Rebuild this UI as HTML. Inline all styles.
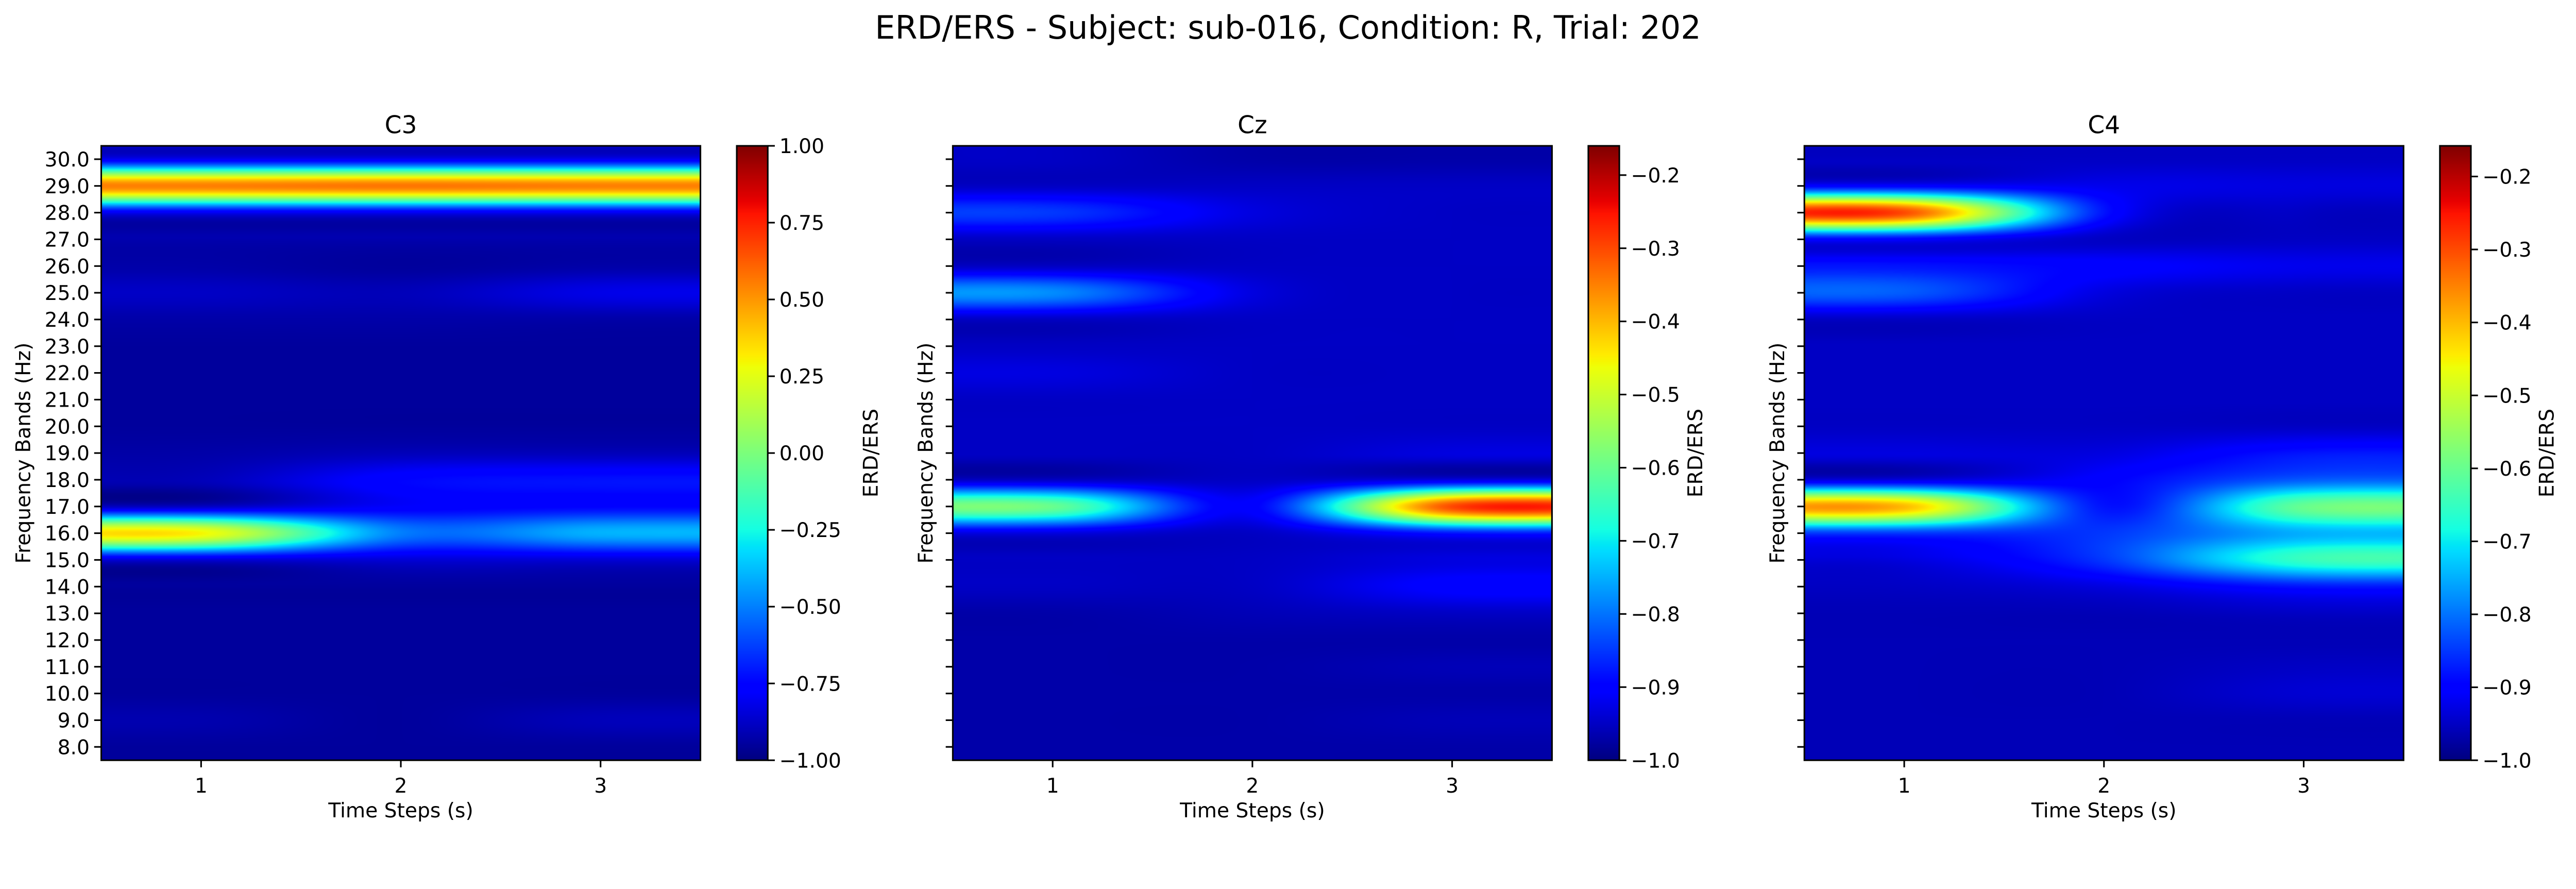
<!DOCTYPE html>
<html><head><meta charset="utf-8">
<meta name="viewport" content="width=5318, initial-scale=1">
<style>
html,body{margin:0;padding:0;background:#fff;overflow:hidden;}
#fig{position:absolute;left:0;top:0;width:5318px;height:1725px;overflow:hidden;background:#fff;font-family:"DejaVu Sans","Liberation Sans",sans-serif;transform-origin:0 0;}
canvas{position:absolute;display:block;}
svg{position:absolute;left:0;top:0;overflow:hidden;}
</style></head>
<body>
<div id="fig">
<svg id="ov" width="5318" height="1725" viewBox="0 0 5318 1725"></svg>
</div>
<script>
// ---- data (rows: frequencies 8..30 Hz, columns: time steps 1,2,3) ----
const freqs = [8,9,10,11,12,13,14,15,16,17,18,19,20,21,22,23,24,25,26,27,28,29,30];
const times = [1,2,3];
const channels = ["C3","Cz","C4"];
const vmins = [-1.0,-1.0,-1.0];
const vmaxs = [1.0,-0.16,-0.158];
const c3Values = [
 [-0.95,-0.95,-0.95],[-0.92,-0.95,-0.9],[-0.95,-0.95,-0.95],[-0.95,-0.95,-0.95],[-0.95,-0.95,-0.95],
 [-0.95,-0.95,-0.95],[-0.95,-0.95,-0.95],[-0.85,-0.85,-0.85],[0.3,-0.5,-0.4],[-0.88,-0.78,-0.75],
 [-0.9,-0.75,-0.72],[-0.93,-0.9,-0.9],[-0.95,-0.95,-0.95],[-0.95,-0.95,-0.95],[-0.95,-0.95,-0.95],
 [-0.95,-0.95,-0.95],[-0.93,-0.93,-0.93],[-0.88,-0.9,-0.82],[-0.93,-0.95,-0.93],[-0.92,-0.92,-0.92],
 [-0.8,-0.8,-0.8],[0.55,0.57,0.55],[-0.8,-0.8,-0.8]];
const czValues = [
 [-0.97,-0.97,-0.97],[-0.97,-0.97,-0.96],[-0.97,-0.97,-0.97],[-0.97,-0.97,-0.96],[-0.97,-0.97,-0.97],
 [-0.97,-0.96,-0.95],[-0.95,-0.95,-0.9],[-0.95,-0.95,-0.93],[-0.93,-0.95,-0.88],[-0.6,-0.9,-0.3],
 [-0.95,-0.95,-0.93],[-0.95,-0.95,-0.93],[-0.95,-0.95,-0.95],[-0.95,-0.95,-0.95],[-0.93,-0.95,-0.95],
 [-0.95,-0.95,-0.95],[-0.95,-0.95,-0.95],[-0.78,-0.93,-0.95],[-0.95,-0.95,-0.95],[-0.95,-0.95,-0.95],
 [-0.85,-0.93,-0.95],[-0.95,-0.95,-0.95],[-0.95,-0.97,-0.97]];
const c4Values = [
 [-0.96,-0.96,-0.96],[-0.96,-0.96,-0.96],[-0.96,-0.96,-0.94],[-0.96,-0.96,-0.95],[-0.96,-0.96,-0.96],
 [-0.96,-0.96,-0.95],[-0.95,-0.93,-0.88],[-0.93,-0.85,-0.65],[-0.85,-0.85,-0.75],[-0.4,-0.88,-0.6],
 [-0.93,-0.9,-0.82],[-0.93,-0.93,-0.88],[-0.95,-0.95,-0.95],[-0.95,-0.95,-0.95],[-0.95,-0.95,-0.95],
 [-0.95,-0.95,-0.95],[-0.95,-0.95,-0.95],[-0.82,-0.93,-0.95],[-0.88,-0.9,-0.92],[-0.9,-0.95,-0.95],
 [-0.3,-0.88,-0.95],[-0.9,-0.92,-0.93],[-0.95,-0.95,-0.95]];
const allValues = [c3Values, czValues, c4Values];
const c3CbarTicks = [-1.0,-0.75,-0.5,-0.25,0.0,0.25,0.5,0.75,1.0];
const cbarTicksNarrow = [-1.0,-0.9,-0.8,-0.7,-0.6,-0.5,-0.4,-0.3,-0.2];
const yTickLabels = ["8.0","9.0","10.0","11.0","12.0","13.0","14.0","15.0","16.0","17.0","18.0","19.0","20.0","21.0","22.0","23.0","24.0","25.0","26.0","27.0","28.0","29.0","30.0"];

// ---- layout ----
const AX_L = 209, AX_W = 1237, AX_T = 301, AX_B = 1569, AX_H = AX_B - AX_T, STEP = 1758;
const CB_OFF = 1312, CB_W = 64;
const X0 = 0.5, X1 = 3.5, Y0 = 7.5, Y1 = 30.5;
const fig = document.getElementById('fig');
const ov = document.getElementById('ov');
const NS = 'http://www.w3.org/2000/svg';

function fitFigure(){
  const w = window.innerWidth || 5318, h = window.innerHeight || 1725;
  const s = Math.min(w/5318, h/1725);
  fig.style.transform = (s > 0 && Math.abs(s-1) > 0.002) ? 'scale('+s+')' : 'none';
}
fitFigure();
window.addEventListener('resize', fitFigure);

function interp(pts, t){
  if (t <= pts[0][0]) return pts[0][1];
  for (let i=1;i<pts.length;i++){ if (t <= pts[i][0]){ const a=pts[i-1], b=pts[i]; return a[1]+(b[1]-a[1])*(t-a[0])/(b[0]-a[0]); } }
  return pts[pts.length-1][1];
}
const RJ=[[0,0],[0.35,0],[0.66,1],[0.89,1],[1,0.5]];
const GJ=[[0,0],[0.125,0],[0.375,1],[0.64,1],[0.91,0],[1,0]];
const BJ=[[0,0.5],[0.11,1],[0.34,1],[0.65,0],[1,0]];
function jet(t){ t=Math.max(0,Math.min(1,t)); return [interp(RJ,t)*255, interp(GJ,t)*255, interp(BJ,t)*255]; }
function cub(x){ const a=-0.5; x=Math.abs(x);
  if (x<=1) return (a+2)*x*x*x-(a+3)*x*x+1;
  if (x<2) return a*x*x*x-5*a*x*x+8*a*x-4*a; return 0; }
function sample(vals, fy, fx){
  const nr=vals.length, nc=vals[0].length;
  const iy=Math.floor(fy), ix=Math.floor(fx);
  let s=0, ws=0;
  for (let j=iy-1;j<=iy+2;j++){ const wy=cub(fy-j); if(!wy) continue; const jj=Math.max(0,Math.min(nr-1,j));
    for (let i=ix-1;i<=ix+2;i++){ const wx=cub(fx-i); if(!wx) continue; const ii=Math.max(0,Math.min(nc-1,i));
      s+=wy*wx*vals[jj][ii]; ws+=wy*wx; } }
  return s/ws;
}
function xs(p, t){ return AX_L + p*STEP + (t - X0)/(X1 - X0)*AX_W; }
function ys(f){ return AX_B - (f - Y0)/(Y1 - Y0)*AX_H; }
function svgEl(tag, attrs, text){
  const e=document.createElementNS(NS, tag);
  for (const k in attrs) e.setAttribute(k, attrs[k]);
  if (text!==undefined) e.textContent=text;
  ov.appendChild(e); return e;
}
function fmtNeg(v, d){ const s=Math.abs(v).toFixed(d); return (v<-1e-9?'\u2212':'')+s; }

const st = svgEl('text',{x:2659,y:80,'font-size':66,'text-anchor':'middle',fill:'#000'},'ERD/ERS - Subject: sub-016, Condition: R, Trial: 202');



channels.forEach((ch, p) => {
  const vals = allValues[p], vmin=vmins[p], vmax=vmaxs[p];
  const left = AX_L + p*STEP;
  const cv = document.createElement('canvas');
  cv.width=AX_W; cv.height=AX_H;
  cv.style.left=left+'px'; cv.style.top=AX_T+'px';
  cv.style.width=AX_W+'px'; cv.style.height=AX_H+'px';
  
  
  fig.insertBefore(cv, ov);
  const ctx=cv.getContext('2d');
  const img=ctx.createImageData(AX_W, AX_H);
  for (let py=0; py<AX_H; py++){
    const f = Y1 - (py+0.5)/AX_H*(Y1-Y0);
    const fy = (f - freqs[0]) / (freqs[1]-freqs[0]);
    for (let px=0; px<AX_W; px++){
      const t = X0 + (px+0.5)/AX_W*(X1-X0);
      const fx = (t - times[0]) / (times[1]-times[0]);
      const v = sample(vals, fy, fx);
      const c = jet((v - vmin)/(vmax - vmin));
      const k=(py*AX_W+px)*4;
      img.data[k]=c[0]; img.data[k+1]=c[1]; img.data[k+2]=c[2]; img.data[k+3]=255;
    }
  }
  ctx.putImageData(img,0,0);

  const fr = svgEl('rect',{x:left,y:AX_T,width:AX_W,height:AX_H,fill:'none',stroke:'#000','stroke-width':3.3});
  
  
  const tt = svgEl('text',{x:left+AX_W/2,y:275,'font-size':50,'text-anchor':'middle'},ch);
  
  
  freqs.forEach((f, i) => {
    const y = ys(f);
    const tk = svgEl('line',{x1:left-14.6,x2:left,y1:y,y2:y,stroke:'#000','stroke-width':3.3});
    
    
    if (p===0){
      const lb = svgEl('text',{x:left-24,y:y+15,'font-size':41.7,'text-anchor':'end'}, yTickLabels[i]);
      
      
    }
  });
  times.forEach(t => {
    const x = xs(p, t);
    const tk = svgEl('line',{x1:x,x2:x,y1:AX_B,y2:AX_B+14.6,stroke:'#000','stroke-width':3.3});
    
    
    const lb = svgEl('text',{x:x,y:1636,'font-size':41.7,'text-anchor':'middle'}, String(t));
    
    
  });
  const xl = svgEl('text',{x:left+AX_W/2,y:1687,'font-size':41.7,'text-anchor':'middle'},'Time Steps (s)');
  
  
  const ylx = p===0 ? 62 : left-42;
  const yl = svgEl('text',{x:ylx,y:935,'font-size':41.7,'text-anchor':'middle',transform:'rotate(-90 '+ylx+' 935)'},'Frequency Bands (Hz)');
  
  

  const cbL = left + CB_OFF;
  const cb = document.createElement('canvas');
  cb.width=CB_W; cb.height=AX_H;
  cb.style.left=cbL+'px'; cb.style.top=AX_T+'px';
  cb.style.width=CB_W+'px'; cb.style.height=AX_H+'px';
  
  
  fig.insertBefore(cb, ov);
  const cctx=cb.getContext('2d');
  for (let py=0; py<AX_H; py++){
    const c=jet(1-(py+0.5)/AX_H);
    cctx.fillStyle='rgb('+c.map(Math.round).join(',')+')';
    cctx.fillRect(0,py,CB_W,1);
  }
  const cbf = svgEl('rect',{x:cbL,y:AX_T,width:CB_W,height:AX_H,fill:'none',stroke:'#000','stroke-width':3.3});
  
  
  const ticks = p===0 ? c3CbarTicks : cbarTicksNarrow;
  ticks.forEach(v => {
    const y = AX_B - (v - vmin)/(vmax - vmin)*AX_H;
    const tk = svgEl('line',{x1:cbL+CB_W,x2:cbL+CB_W+14.6,y1:y,y2:y,stroke:'#000','stroke-width':3.3});
    
    
    const lb = svgEl('text',{x:cbL+CB_W+24,y:y+15,'font-size':41.7}, fmtNeg(v, p===0?2:1));
    
    
  });
  const cbx = p===0 ? 1812 : cbL + 235;
  const cl = svgEl('text',{x:cbx,y:935,'font-size':41.7,'text-anchor':'middle',transform:'rotate(-90 '+cbx+' 935)'},'ERD/ERS');
  
  
});
</script>
</body></html>
